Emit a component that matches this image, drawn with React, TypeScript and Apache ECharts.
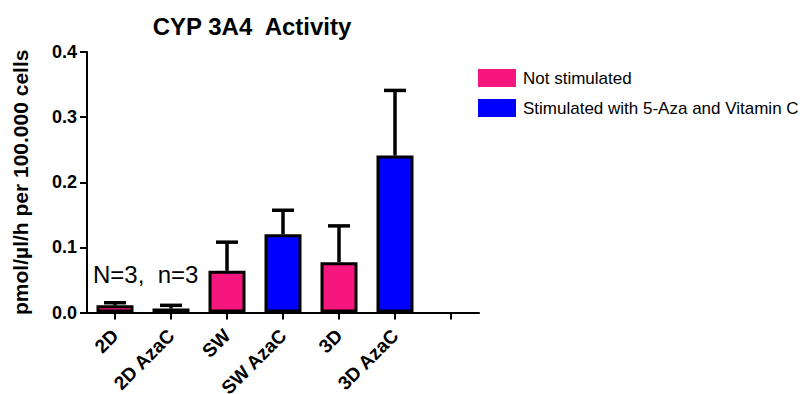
import React, { useEffect, useRef } from "react";
import * as echarts from "echarts";

const categories = ["2D", "2D AzaC", "SW", "SW AzaC", "3D", "3D AzaC", ""];
const notStimulated = [0.011, "-", 0.064, "-", 0.077, "-", "-"];
const stimulated = ["-", 0.006, "-", 0.12, "-", 0.241, "-"];
const means = [0.011, 0.006, 0.064, 0.12, 0.077, 0.241];
const errors = [0.004, 0.005, 0.044, 0.037, 0.056, 0.1];
const yTicks = [0, 0.1, 0.2, 0.3, 0.4];

const FONT = "Arial, 'Liberation Sans', sans-serif";
const PINK = "#F5177E";
const BLUE = "#0000FF";

export default function App() {
  const ref = useRef<HTMLDivElement>(null);
  useEffect(() => {
    const chart = echarts.init(ref.current!, null, { renderer: "svg" });
    chart.setOption({
      animation: false,
      backgroundColor: "#fff",
      title: {
        text: "CYP 3A4  Activity",
        left: 252,
        textAlign: "center",
        top: 14,
        padding: 0,
        textStyle: { fontFamily: FONT, fontWeight: "bold", fontSize: 24, color: "#000" },
      },
      legend: {
        data: ["Not stimulated", "Stimulated with 5-Aza and Vitamin C"],
        orient: "vertical",
        left: 478,
        top: 69,
        padding: 0,
        itemWidth: 38,
        itemHeight: 18,
        itemGap: 12,
        icon: "rect",
        itemStyle: { borderWidth: 0 },
        textStyle: { fontFamily: FONT, fontSize: 17, color: "#000", padding: [0, 0, 0, 2] },
      },
      grid: {
        left: 87,
        right: 325,
        top: 52,
        bottom: 81.5,
        containLabel: false,
        outerBoundsMode: "none",
      },
      xAxis: {
        type: "category",
        data: categories,
        axisLine: { show: true, lineStyle: { color: "#000", width: 2 } },
        axisTick: { show: true, alignWithLabel: true, length: 7, lineStyle: { color: "#000", width: 2 } },
        axisLabel: {
          rotate: 45,
          interval: 0,
          margin: 20,
          fontFamily: FONT,
          fontWeight: "bold",
          fontSize: 19,
          color: "#000",
        },
      },
      yAxis: {
        type: "value",
        min: 0,
        max: 0.4,
        interval: 0.1,
        name: "pmol/µl/h per 100.000 cells",
        nameLocation: "middle",
        nameGap: 56,
        nameTextStyle: { fontFamily: FONT, fontWeight: "bold", fontSize: 21, color: "#000" },
        axisLine: { show: true, lineStyle: { color: "#000", width: 2 } },
        axisTick: { show: true, length: 7, lineStyle: { color: "#000", width: 2 } },
        splitLine: { show: false },
        axisLabel: {
          margin: 10,
          fontFamily: FONT,
          fontWeight: "bold",
          fontSize: 18,
          color: "#000",
          formatter: (v: number) => (yTicks.includes(Math.round(v * 10) / 10) ? v.toFixed(1) : ""),
        },
      },
      series: [
        {
          name: "Not stimulated",
          type: "bar",
          stack: "s",
          barWidth: 37,
          data: notStimulated,
          itemStyle: { color: PINK, borderColor: "#000", borderWidth: 3 },
          z: 3,
        },
        {
          name: "Stimulated with 5-Aza and Vitamin C",
          type: "bar",
          stack: "s",
          barWidth: 37,
          data: stimulated,
          itemStyle: { color: BLUE, borderColor: "#000", borderWidth: 3 },
          z: 3,
        },
        {
          name: "errors",
          type: "custom",
          z: 2,
          encode: { x: 0, y: 1 },
          data: means.map((m, i) => [i, m, errors[i]]),
          renderItem: (params: any, api: any) => {
            const idx = api.value(0);
            const mean = api.value(1);
            const err = api.value(2);
            const base = api.coord([idx, mean]);
            const top = api.coord([idx, mean + err]);
            const style = { stroke: "#000", lineWidth: 3.5 };
            return {
              type: "group",
              children: [
                { type: "line", shape: { x1: base[0], y1: base[1], x2: base[0], y2: top[1] }, style },
                { type: "line", shape: { x1: base[0] - 11, y1: top[1], x2: base[0] + 11, y2: top[1] }, style },
              ],
            };
          },
        },
      ],
      graphic: [
        {
          type: "text",
          left: 93,
          top: 262,
          style: { text: "N=3,  n=3", fontFamily: FONT, fontSize: 24, fill: "#000" },
        },
      ],
    });
    return () => chart.dispose();
  }, []);
  return <div ref={ref} style={{ position: "absolute", left: 0, top: 0, width: 804, height: 394 }} />;
}
